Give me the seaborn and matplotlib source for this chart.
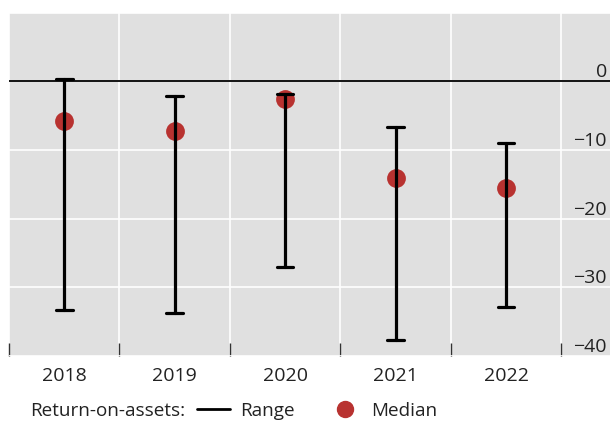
import numpy as np
import pandas as pd
import seaborn as sns
from matplotlib import pyplot as plt
from matplotlib.lines import Line2D

# return-on-assets per year (%)
years = ['2018', '2019', '2020', '2021', '2022']
roa_min = [-33.3, -33.8, -27.1, -37.7, -32.8]
roa_median = [-5.8, -7.2, -2.6, -14.1, -15.5]
roa_max = [0.4, -2.2, -1.9, -6.7, -9.0]
ytick_vals = [0, -10, -20, -30, -40]

# three rows per year: median estimator + min/max errorbar gives the range
rows = []
for yr, lo, med, hi in zip(years, roa_min, roa_median, roa_max):
    for v in (lo, med, hi):
        rows.append({'year': yr, 'roa': v})
data = pd.DataFrame(rows)

sns.set_theme(style='whitegrid')
plt.rcParams['font.family'] = ['Open Sans', 'DejaVu Sans']
red = '#b83230'
txt = '#222222'

fig = plt.figure(figsize=(6.1, 4.21), dpi=100)
ax = fig.add_axes([9 / 610, 65 / 421, 601 / 610, (356 - 12.7) / 421])
ax.set_facecolor('#e0e0e0')

sns.pointplot(data=data, x='year', y='roa', estimator='median',
              errorbar=lambda s: (s.min(), s.max()),
              linestyle='none', color=red, markersize=11.5, capsize=0.15,
              err_kws={'color': 'black', 'linewidth': 2.3}, ax=ax)

ax.axhline(0, color='black', lw=1.3, zorder=1.5)

ax.set_xlim(-0.5, 4.94)
ax.set_ylim(-39.8, 9.8)
ax.set_xlabel('')
ax.set_ylabel('')

# vertical grid between categories, small inward ticks at the bottom
ax.set_xticks(np.arange(-0.5, 5, 1), minor=True)
ax.tick_params(axis='x', which='major', length=0, pad=8, labelsize=14, labelcolor=txt)
ax.tick_params(axis='x', which='minor', direction='in', length=9.5, width=1, color='#333333', bottom=True)
ax.grid(False)
ax.grid(True, axis='x', which='minor', color='white', lw=1.2)
ax.set_yticks([-40, -30, -20, -10, 0, 10])
ax.grid(True, axis='y', which='major', color='white', lw=1.2)
ax.tick_params(axis='y', length=0, labelleft=False)
for s in ax.spines.values():
    s.set_visible(False)

for v in ytick_vals:
    lab = str(v).replace('-', '\u2212')
    ax.text(0.995, v, lab, transform=ax.get_yaxis_transform(), ha='right', va='bottom',
            fontsize=14, color=txt)

# legend row sits ~411 px from the top
leg_y = 1 - 411 / 421
fig.text(30 / 610, leg_y, 'Return-on-assets:', va='center', ha='left', fontsize=13.6, color=txt)
handles = [Line2D([], [], color='black', lw=2),
           Line2D([], [], color=red, marker='o', linestyle='none', markersize=11.5)]
fig.legend(handles, ['Range', 'Median'], ncol=2, loc='center left',
           bbox_to_anchor=(197 / 610, leg_y), frameon=False, fontsize=13.6,
           handlelength=1.75, handletextpad=0.55, columnspacing=1.75,
           borderpad=0, borderaxespad=0, labelcolor=txt)

plt.savefig('out.png', dpi=100)
